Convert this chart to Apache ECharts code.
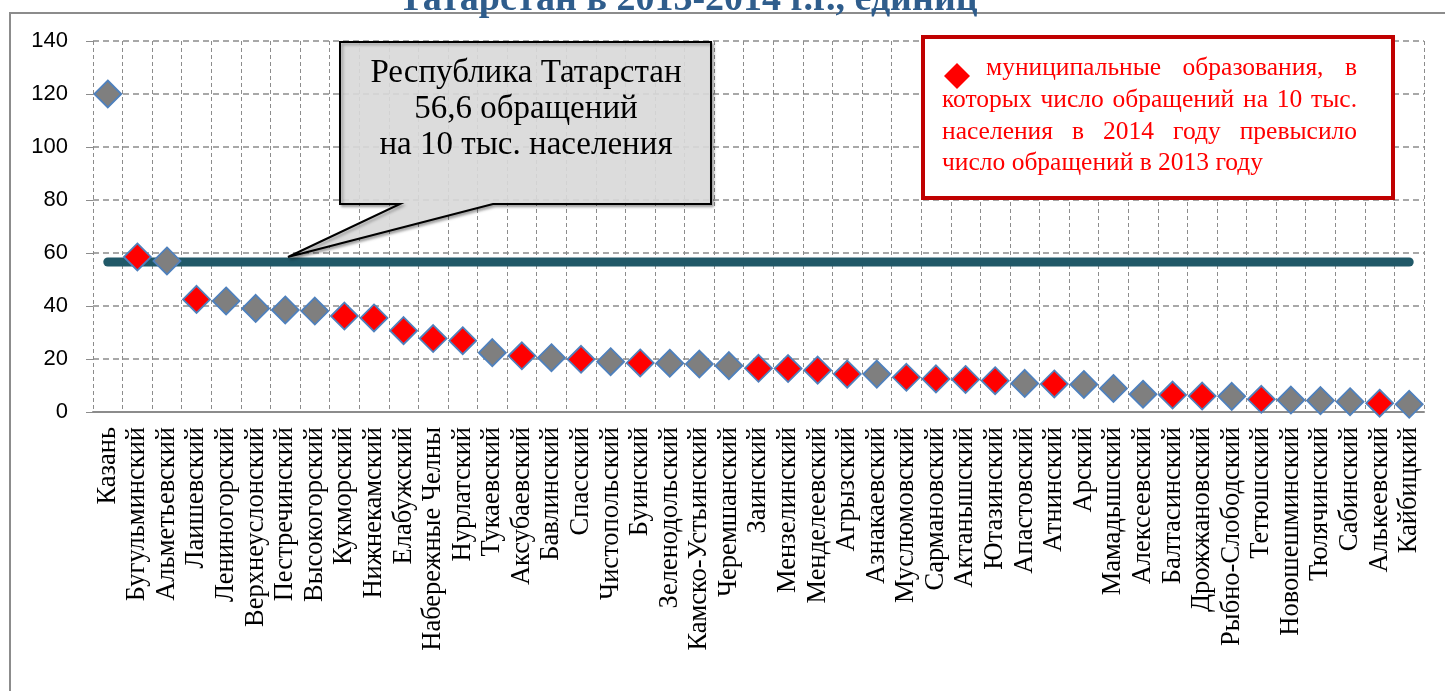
<!DOCTYPE html>
<html>
<head>
<meta charset="utf-8">
<script src="https://cdn.jsdelivr.net/npm/echarts@6/dist/echarts.min.js"></script>
<style>
  html, body { margin: 0; padding: 0; background: #fff; }
  #chart { width: 1445px; height: 691px; }
</style>
</head>
<body>
<div id="chart"></div>
<script>
// обращения на 10 тыс. населения, 2014 г.
const categories = [
  'Казань', 'Бугульминский', 'Альметьевский', 'Лаишевский', 'Лениногорский',
  'Верхнеуслонский', 'Пестречинский', 'Высокогорский', 'Кукморский', 'Нижнекамский',
  'Елабужский', 'Набережные Челны', 'Нурлатский', 'Тукаевский', 'Аксубаевский',
  'Бавлинский', 'Спасский', 'Чистопольский', 'Буинский', 'Зеленодольский',
  'Камско-Устьинский', 'Черемшанский', 'Заинский', 'Мензелинский', 'Менделеевский',
  'Агрызский', 'Азнакаевский', 'Муслюмовский', 'Сармановский', 'Актанышский',
  'Ютазинский', 'Апастовский', 'Атнинский', 'Арский', 'Мамадышский',
  'Алексеевский', 'Балтасинский', 'Дрожжановский', 'Рыбно-Слободский', 'Тетюшский',
  'Новошешминский', 'Тюлячинский', 'Сабинский', 'Алькеевский', 'Кайбицкий'
]
const values = [
  120, 58.5, 57, 42.5, 41.9, 39.1, 38.5, 38.1, 36.2, 35.5,
  30.7, 27.7, 26.9, 22.4, 21.2, 20.5, 19.9, 19.0, 18.5, 18.4,
  18.1, 17.5, 16.5, 16.4, 15.8, 14.3, 14.3, 13.1, 12.5, 12.3,
  11.8, 10.8, 10.6, 10.4, 8.9, 6.7, 6.4, 6.0, 5.9, 4.8,
  4.5, 4.3, 3.9, 3.3, 2.9
]
// 1 = в 2014 году больше, чем в 2013
const increased = [
  0, 1, 0, 1, 0, 0, 0, 0, 1, 1,
  1, 1, 1, 0, 1, 0, 1, 0, 1, 0,
  0, 0, 1, 1, 1, 1, 0, 1, 1, 1,
  1, 0, 1, 0, 0, 0, 1, 1, 0, 1,
  0, 0, 0, 1, 0
]
const republicAvg = 56.6
const yTicks = [0, 20, 40, 60, 80, 100, 120, 140]

const SERIF = '"Liberation Serif", "Times New Roman", serif'
const GRID_COLOR = '#8c8c8c'

const chart = echarts.init(document.getElementById('chart'))

// justified text lines for the red note box
const ctx = document.createElement('canvas').getContext('2d')
const noteFont = '25.5px ' + SERIF
ctx.font = noteFont
function justifiedLine(text, x0, x1, y, justify) {
  const words = text.split(' ')
  const widths = words.map(w => ctx.measureText(w).width)
  const total = widths.reduce((a, b) => a + b, 0)
  const gap = justify && words.length > 1 ? (x1 - x0 - total) / (words.length - 1) : ctx.measureText(' ').width
  let x = x0
  return words.map((w, i) => {
    const el = {
      type: 'text', z: 20,
      style: { x: x, y: y, text: w, font: noteFont, fill: '#FF0000', verticalAlign: 'middle' },
    }
    x += widths[i] + gap
    return el
  })
}

const noteLines = [
  ...justifiedLine('муниципальные образования, в', 986, 1357, 68, true),
  ...justifiedLine('которых число обращений на 10 тыс.', 942, 1357, 100, true),
  ...justifiedLine('населения в 2014 году превысило', 942, 1357, 132, true),
  ...justifiedLine('число обращений в 2013 году', 942, 1357, 163, false),
]

chart.setOption({
  animation: false,
  grid: { left: 93, right: 21, top: 41, bottom: 279 },
  xAxis: {
    type: 'category',
    data: categories,
    axisLine: { lineStyle: { color: '#8c8c8c', width: 2 } },
    axisTick: { length: 6, lineStyle: { color: '#8c8c8c', width: 2 } },
    axisLabel: { rotate: 90, interval: 0, margin: 15, color: '#000', fontSize: 26.5, fontFamily: SERIF },
    splitLine: { show: true, lineStyle: { color: GRID_COLOR, type: [4, 3], width: 1 } },
  },
  yAxis: {
    type: 'value',
    min: 0, max: 140, interval: 20,
    axisLine: { show: false },
    axisTick: { show: true, length: 7, lineStyle: { color: GRID_COLOR } },
    axisLabel: {
      margin: 25, color: '#000', fontSize: 22, fontFamily: '"Liberation Sans", Arial, sans-serif',
      formatter: v => (yTicks.includes(v) ? String(v) : ''),
    },
    splitLine: { lineStyle: { color: GRID_COLOR, type: [6, 4], width: 1.5 } },
  },
  series: [
    {
      type: 'line',
      z: 1,
      data: [[categories[0], republicAvg], [categories[categories.length - 1], republicAvg]],
      symbol: 'none',
      lineStyle: { color: '#215968', width: 9, cap: 'round' },
    },
    {
      type: 'scatter',
      z: 3,
      symbol: 'diamond',
      symbolSize: 27,
      data: values.map((v, i) => ({
        value: v,
        itemStyle: { color: increased[i] ? '#FF0000' : '#7F7F7F' },
      })),
      itemStyle: { opacity: 1, borderColor: '#4F81BD', borderWidth: 1.8 },
    },
  ],
  graphic: [
    // рамка диаграммы
    {
      type: 'rect', z: 0, silent: true,
      shape: { x: 10, y: 13, width: 1500, height: 800 },
      style: { fill: 'none', stroke: '#8c8c8c', lineWidth: 2 },
    },
    // заголовок (обрезан сверху)
    {
      type: 'text', z: 20,
      style: {
        x: 688, y: 19, text: 'Татарстан в 2013-2014 г.г., единиц',
        font: 'bold 38px ' + SERIF, fill: '#2F5D8C', align: 'center', verticalAlign: 'bottom',
      },
    },
    // выноска
    {
      type: 'polygon', z: 15,
      shape: { points: [[340, 42], [711, 42], [711, 204], [493, 204], [288, 257], [400, 204], [340, 204]] },
      style: {
        fill: 'rgba(225,225,225,0.88)', stroke: '#000', lineWidth: 2,
        shadowBlur: 3, shadowOffsetX: 2, shadowOffsetY: 2, shadowColor: 'rgba(0,0,0,0.35)',
      },
    },
    {
      type: 'text', z: 20,
      style: {
        x: 526, y: 109, text: 'Республика Татарстан\n56,6 обращений\nна 10 тыс. населения',
        font: '33px ' + SERIF, lineHeight: 36, fill: '#000', align: 'center', verticalAlign: 'middle',
      },
    },
    // пояснение
    {
      type: 'rect', z: 15,
      shape: { x: 923, y: 37, width: 470, height: 161 },
      style: { fill: '#fff', stroke: '#C00000', lineWidth: 4 },
    },
    {
      type: 'polygon', z: 20,
      shape: { points: [[957, 63], [970, 76], [957, 89], [944, 76]] },
      style: { fill: '#FF0000' },
    },
    ...noteLines,
  ],
})
</script>
</body>
</html>
